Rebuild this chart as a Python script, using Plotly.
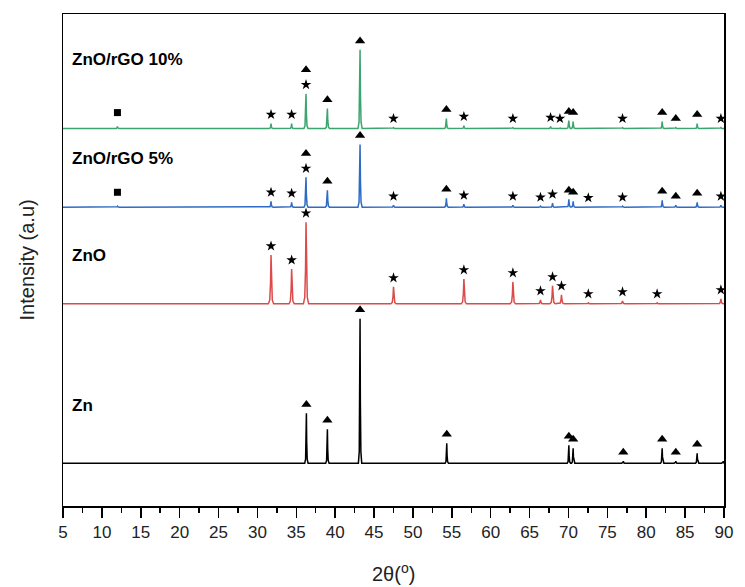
import plotly.graph_objects as go

# ---- data (2θ positions, relative peak intensities, phase marks) ----
zn_pos = [36.3, 39.0, 43.2, 54.35, 70.05, 70.6, 77.05, 82.05, 83.8, 86.55, 89.9]
zn_int = [50, 34, 145, 20, 18, 15, 2, 15, 2, 10, 2]
zn_mark = ["tri", "tri", "tri", "tri", "tri", "tri", "tri", "tri", "tri", "tri", ""]

zno_pos = [31.75, 34.4, 36.25, 47.5, 56.55, 62.85, 66.4, 67.95, 69.1, 72.55, 76.95, 81.4, 89.6]
zno_int = [49, 35, 82, 17, 25, 22, 4, 18, 9, 1, 3, 1, 5]
zno_mark = ["star"] * 13

r5_pos = [12.0, 31.75, 34.4, 36.25, 39.0, 43.2, 47.5, 54.3, 56.55, 62.85, 66.4, 67.95,
          70.05, 70.6, 72.55, 76.95, 82.05, 83.8, 86.55, 89.6]
r5_int = [1, 6, 5, 30, 17, 63, 2, 9, 3, 2, 1, 4, 8, 6, 0.5, 1, 7, 2, 5, 2]
r5_mark = ["sq", "star", "star", "star+tri", "tri", "tri", "star", "tri", "star", "star", "star", "star",
           "tri", "tri", "star", "star", "tri", "tri", "tri", "star"]

r10_pos = [12.0, 31.75, 34.4, 36.25, 39.0, 43.2, 47.5, 54.3, 56.55, 62.85, 67.7, 68.9,
           70.05, 70.6, 76.95, 82.05, 83.8, 86.55, 89.6]
r10_int = [2, 5, 5, 35, 20, 79, 1, 10, 3, 1, 2, 1, 8, 7, 1, 7, 1, 5, 1]
r10_mark = ["sq", "star", "star", "star+tri", "tri", "tri", "star", "tri", "star", "star", "star", "star",
            "tri", "tri", "star", "tri", "tri", "tri", "star"]

names = ["Zn", "ZnO", "ZnO/rGO 5%", "ZnO/rGO 10%"]

# ---- styling / layout ----
offsets = [43, 203, 300, 379]
colors = ["#000000", "#dc4a4a", "#2e6bc6", "#3aa56e"]
widths = [0.8, 1.25, 1.0, 1.0]
label_y = [101, 252, 349, 448]
SHAPE_DX = [-0.27, -0.13, -0.05, 0, 0.05, 0.13, 0.27]
SHAPE_F = [0, 0.08, 0.42, 1, 0.42, 0.08, 0]
GAP = 9
STACK = 15
FONT = "Liberation Sans, Arial, sans-serif"

series = [(zn_pos, zn_int, zn_mark), (zno_pos, zno_int, zno_mark),
          (r5_pos, r5_int, r5_mark), (r10_pos, r10_int, r10_mark)]

fig = go.Figure()
for (pos, ints, marks), base, col, w, name, ly in zip(series, offsets, colors, widths, names, label_y):
    xs, ys = [5.0], [base]
    for p, h in sorted(zip(pos, ints)):
        for dx, f in zip(SHAPE_DX, SHAPE_F):
            xs.append(p + dx * w)
            ys.append(base + h * f)
    xs.append(90.0)
    ys.append(base)
    fig.add_trace(go.Scatter(x=xs, y=ys, mode="lines", line=dict(color=col, width=1.5),
                             name=name, showlegend=False, hoverinfo="skip"))
    groups = {"star": ([], []), "triangle-up": ([], []), "square": ([], [])}
    for p, h, m in zip(pos, ints, marks):
        top = base + h
        if m == "star":
            groups["star"][0].append(p); groups["star"][1].append(top + GAP)
        elif m == "tri":
            groups["triangle-up"][0].append(p); groups["triangle-up"][1].append(top + GAP)
        elif m == "star+tri":
            groups["star"][0].append(p); groups["star"][1].append(top + GAP)
            groups["triangle-up"][0].append(p); groups["triangle-up"][1].append(top + GAP + STACK)
        elif m == "sq":
            groups["square"][0].append(p); groups["square"][1].append(top + GAP + 5)
    sizes = {"star": 8, "triangle-up": 9, "square": 7}
    for sym, (gx, gy) in groups.items():
        if gx:
            fig.add_trace(go.Scatter(x=gx, y=gy, mode="markers",
                                     marker=dict(symbol=sym, size=sizes[sym], color="black",
                                                 line=dict(width=0)),
                                     showlegend=False, hoverinfo="skip"))
    fig.add_annotation(x=5.9, y=ly, xref="x", yref="y", text="<b>%s</b>" % name,
                       showarrow=False, xanchor="left", yanchor="middle",
                       font=dict(family=FONT, size=17, color="black"))

fig.add_annotation(x=(27 - 63) / 670, y=0.5, xref="paper", yref="paper", text="Intensity (a.u)",
                   textangle=-90, showarrow=False, xanchor="center", yanchor="middle",
                   font=dict(family=FONT, size=20, color="#222"))
fig.add_annotation(x=0.5, y=(506 - 573) / 494, xref="paper", yref="paper", text="2θ(<sup>o</sup>)",
                   showarrow=False, xanchor="center", yanchor="middle",
                   font=dict(family=FONT, size=20, color="#222"))

fig.update_xaxes(range=[5, 90], tick0=5, dtick=5, ticks="outside", ticklen=10, tickwidth=1.5,
                 tickcolor="black", showline=True, linewidth=1.5, linecolor="black", mirror=True,
                 showgrid=False, zeroline=False,
                 tickfont=dict(family=FONT, size=17, color="#222"),
                 minor=dict(dtick=2.5, ticks="outside", ticklen=5, tickwidth=1.5, tickcolor="black",
                            showgrid=False))
fig.update_yaxes(range=[0, 494], showticklabels=False, ticks="", showline=True, linewidth=1.5,
                 linecolor="black", mirror=True, showgrid=False, zeroline=False)
fig.update_layout(width=745, height=587, margin=dict(l=63, r=12, t=12, b=81),
                  plot_bgcolor="white", paper_bgcolor="white")
fig.write_html("out.html", config={"displayModeBar": False, "staticPlot": True})

with open("out.html", "r", encoding="utf-8") as fh:
    html = fh.read()
html = html.replace("<head>", "<head><style>html,body{margin:0;padding:0;overflow:hidden;}</style>", 1)
with open("out.html", "w", encoding="utf-8") as fh:
    fh.write(html)
